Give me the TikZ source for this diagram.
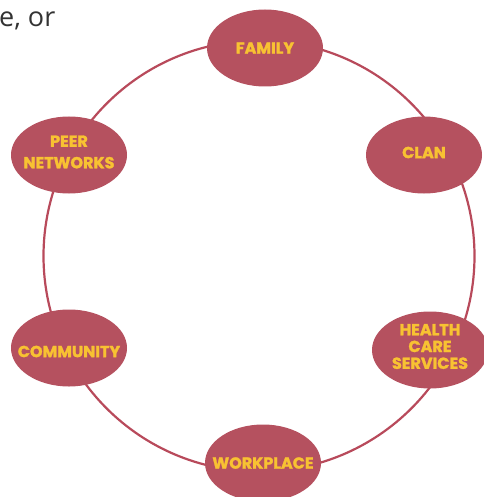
\documentclass[tikz,border=0pt]{standalone}
\usepackage{fontspec}
\setmainfont{Poppins}[BoldFeatures={FakeBold=1.6}]
\newfontfamily\bodyfont{Open Sans}
\usetikzlibrary{shapes.geometric}
\definecolor{ringred}{HTML}{B84A5B}
\definecolor{blobred}{HTML}{B5515F}
\definecolor{labelyellow}{HTML}{F8C232}
\definecolor{bodygrey}{HTML}{333333}
\begin{document}
\begin{tikzpicture}[x=1pt,y=-1pt,
  blob/.style={ellipse,fill=blobred,minimum width=116pt,minimum height=77pt,inner sep=0pt},
  blabel/.style={text=labelyellow,font=\fontsize{16}{17}\selectfont\bfseries,align=center,inner sep=0pt},
  ring/.style={draw=ringred,line width=2.2pt}]
\useasboundingbox (0,0) rectangle (483,497);
\node[font=\bodyfont\fontsize{27}{30}\selectfont,text=bodygrey,anchor=base west,inner sep=0pt] (frag) at (-1,27) {e, or};
\coordinate (c) at (259,256);
\draw[ring] (c) circle (215.5pt);
\node[blob] (family) at (265,48) {};
\node[blabel] (familyt) at (family.center) {FAMILY};
\node[blob] (clan) at (424,155) {};
\node[blabel] (clant) at ([yshift=2.5pt]clan.center) {CLAN};
\node[blob] (peer) at (69,155) {};
\node[blabel,font=\fontsize{16}{21.5}\selectfont\bfseries] (peert) at ([yshift=3pt]peer.center) {PEER\\NETWORKS};
\node[blob] (community) at (69,348) {};
\node[blabel] (communityt) at ([yshift=-3.5pt]community.center) {COMMUNITY};
\node[blob] (health) at (430,350) {};
\node[blabel,font=\fontsize{16}{16.8}\selectfont\bfseries] (healtht) at ([yshift=3.5pt]health.center) {HEALTH\\CARE\\SERVICES};
\node[blob] (workplace) at (263,463) {};
\node[blabel] (workplacet) at (workplace.center) {WORKPLACE};
\end{tikzpicture}
\end{document}
